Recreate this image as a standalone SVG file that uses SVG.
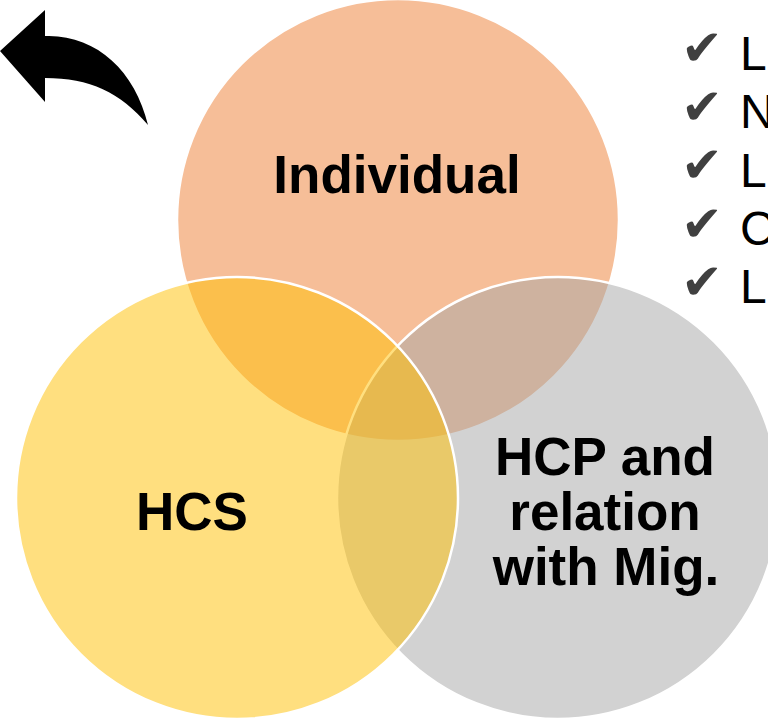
<svg xmlns="http://www.w3.org/2000/svg" width="768" height="720" viewBox="0 0 768 720">
<style>
.c{stroke:#FFFFFF;stroke-width:2.5}
.lbl{font-family:"Liberation Sans",Arial,sans-serif;font-weight:bold;font-size:53px;fill:#000000;text-anchor:middle}
.chk{font-family:"DejaVu Sans",sans-serif;font-size:50px;fill:#404040}
.it{font-family:"Liberation Sans",Arial,sans-serif;font-size:48px;fill:#000000}
</style>
<rect width="768" height="720" fill="#FFFFFF"/>
<g id="individual">
<circle class="c" cx="398" cy="220" r="221" fill="#ED7D31" fill-opacity="0.5"/>
</g>
<g id="hcp">
<circle class="c" cx="558" cy="498" r="221" fill="#A5A5A5" fill-opacity="0.5"/>
</g>
<g id="hcs">
<circle class="c" cx="237" cy="498" r="221" fill="#FFC000" fill-opacity="0.5"/>
</g>
<g id="labels">
<text class="lbl" x="397" y="193">Individual</text>
<text class="lbl" x="192" y="530">HCS</text>
<text class="lbl" x="605" y="475">HCP and</text>
<text class="lbl" x="605" y="530">relation</text>
<text class="lbl" x="606" y="585">with Mig.</text>
</g>
<g id="arrow">
<path d="M0 51 L45 10 L45 36 C95 34 135 70 148 125 C120 92 90 78 45 78 L45 102 Z" fill="#000000"/>
</g>
<g id="list">
<text class="chk" x="681" y="65">✔</text>
<text class="it" x="740" y="69.5">L</text>
<text class="chk" x="681" y="123.5">✔</text>
<text class="it" x="740" y="128">N</text>
<text class="chk" x="681" y="182">✔</text>
<text class="it" x="740" y="186.5">L</text>
<text class="chk" x="681" y="240.5">✔</text>
<text class="it" x="740" y="245">C</text>
<text class="chk" x="681" y="299">✔</text>
<text class="it" x="740" y="303">L</text>
</g>
</svg>
